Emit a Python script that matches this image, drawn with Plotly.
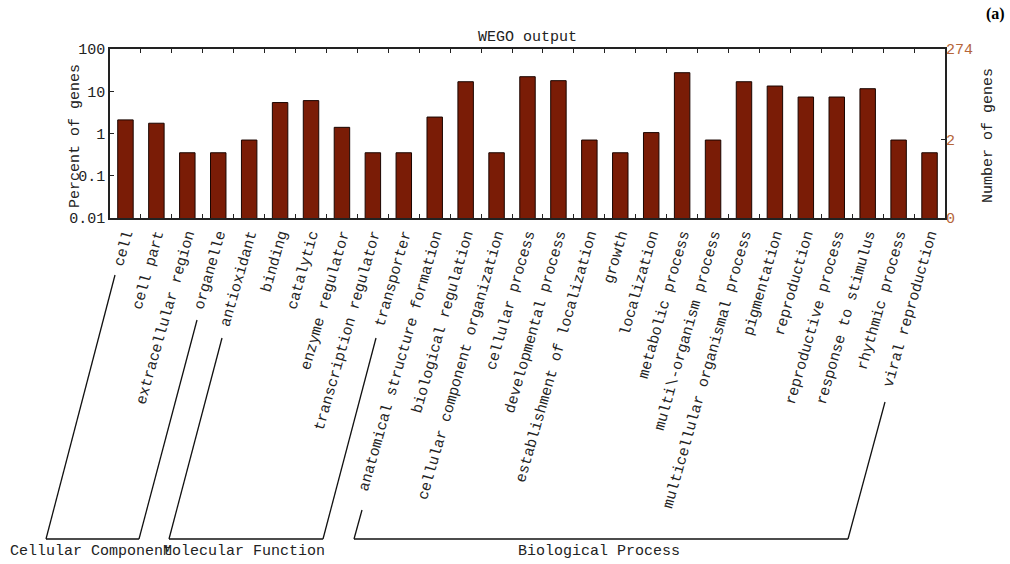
import plotly.graph_objects as go

categories = [
    "cell", "cell part", "extracellular region", "organelle",
    "antioxidant", "binding", "catalytic", "enzyme regulator",
    "transcription regulator", "transporter",
    "anatomical structure formation", "biological regulation",
    "cellular component organization", "cellular process",
    "developmental process", "establishment of localization", "growth",
    "localization", "metabolic process", "multi\\-organism process",
    "multicellular organismal process", "pigmentation", "reproduction",
    "reproductive process", "response to stimulus", "rhythmic process",
    "viral reproduction",
]
percent_genes = [
    2.1, 1.75, 0.35, 0.35,
    0.7, 5.4, 6.0, 1.4,
    0.35, 0.35,
    2.45, 16.8,
    0.35, 22.1,
    17.8, 0.7, 0.35,
    1.05, 27.5, 0.7,
    16.8, 13.3, 7.3,
    7.3, 11.5, 0.7,
    0.35,
]
left_tickvals = [0.01, 0.1, 1, 10, 100]
left_ticktext = ["0.01", "0.1", "1", "10", "100"]
right_tickvals = [0.01, 0.73, 100]
right_ticktext = ["0", "2", "274"]
groups = ["Cellular Component", "Molecular Function", "Biological Process"]

W, H = 1010, 564
PX0, PX1, PY0, PY1 = 110, 945, 49, 218
FONT = "Liberation Mono, DejaVu Sans Mono, monospace"
TXT = "#222"


def px(x):
    return (x - PX0) / (PX1 - PX0)


def py(y):
    return (PY1 - y) / (PY1 - PY0)


fig = go.Figure()
fig.add_trace(go.Bar(
    x=categories, y=percent_genes, width=0.5,
    marker=dict(color="#7a1c06", line=dict(color="#1a0500", width=1)),
    hoverinfo="x+y",
))
fig.add_trace(go.Scatter(
    x=categories, y=percent_genes, yaxis="y2", mode="markers",
    marker=dict(opacity=0), hoverinfo="skip", showlegend=False,
))

# bracket geometry (pixels): top of left line, bottom-left, bottom-right, top of right line
brackets = [
    ((115, 275), (46, 539), (139, 539), (197, 320)),
    ((222, 338), (169, 539), (323, 539), (376, 338)),
    ((362, 510), (354, 539), (848, 539), (885, 402)),
]
shapes = []
annotations = []
for (t1, b1, b2, t2), name in zip(brackets, groups):
    pts = [t1, b1, b2, t2]
    for a, b in zip(pts[:-1], pts[1:]):
        shapes.append(dict(type="line", xref="paper", yref="paper",
                           x0=px(a[0]), y0=py(a[1]), x1=px(b[0]), y1=py(b[1]),
                           line=dict(color="#111", width=1.3)))
    annotations.append(dict(text=name, xref="paper", yref="paper",
                            x=px((b1[0] + b2[0]) / 2 - 2), y=py(551),
                            xanchor="center", yanchor="middle", showarrow=False,
                            font=dict(family=FONT, size=15, color=TXT)))

annotations += [
    dict(text="WEGO output", xref="paper", yref="paper",
         x=0.5, y=py(37), xanchor="center", yanchor="middle",
         showarrow=False, font=dict(family=FONT, size=15, color=TXT)),
    dict(text="<b>(a)</b>", xref="paper", yref="paper",
         x=px(995), y=py(14), xanchor="center", yanchor="middle",
         showarrow=False,
         font=dict(family="Liberation Serif, serif", size=16, color="#000")),
    dict(text="Percent of genes", xref="paper", yref="paper",
         x=px(75), y=py(136), xanchor="center", yanchor="middle", textangle=-90,
         showarrow=False, font=dict(family=FONT, size=15, color=TXT)),
    dict(text="Number of genes", xref="paper", yref="paper",
         x=px(988), y=py(136), xanchor="center", yanchor="middle", textangle=-90,
         showarrow=False, font=dict(family=FONT, size=15, color=TXT)),
]

fig.update_layout(
    width=W, height=H,
    margin=dict(l=PX0, r=W - PX1, t=PY0, b=H - PY1, autoexpand=False),
    paper_bgcolor="white", plot_bgcolor="white",
    showlegend=False, bargap=0.5,
    font=dict(family=FONT, size=15, color=TXT),
    xaxis=dict(
        type="category", tickangle=-74, tickson="boundaries",
        ticks="inside", ticklen=4, tickcolor=TXT,
        showline=True, linecolor=TXT, linewidth=1.5, mirror="ticks",
        tickfont=dict(family=FONT, size=15, color=TXT),
        showgrid=False, range=[-0.5, len(categories) - 0.5], automargin=False,
    ),
    yaxis=dict(
        type="log", range=[-2, 2], tickvals=left_tickvals, ticktext=left_ticktext,
        ticks="inside", ticklen=4, tickcolor=TXT,
        showline=True, linecolor=TXT, linewidth=1.5, mirror=True,
        showgrid=False, zeroline=False, automargin=False,
        tickfont=dict(family=FONT, size=15, color=TXT),
    ),
    yaxis2=dict(
        type="log", range=[-2, 2], overlaying="y", side="right",
        tickvals=right_tickvals, ticktext=right_ticktext,
        ticks="inside", ticklen=4, tickcolor=TXT,
        showline=False, showgrid=False, zeroline=False, automargin=False,
        tickfont=dict(family=FONT, size=15, color="#b5653a"),
    ),
    shapes=shapes, annotations=annotations,
)

fig.write_html("out.html", config={"displayModeBar": False},
               post_script="document.body.style.margin='0';")
